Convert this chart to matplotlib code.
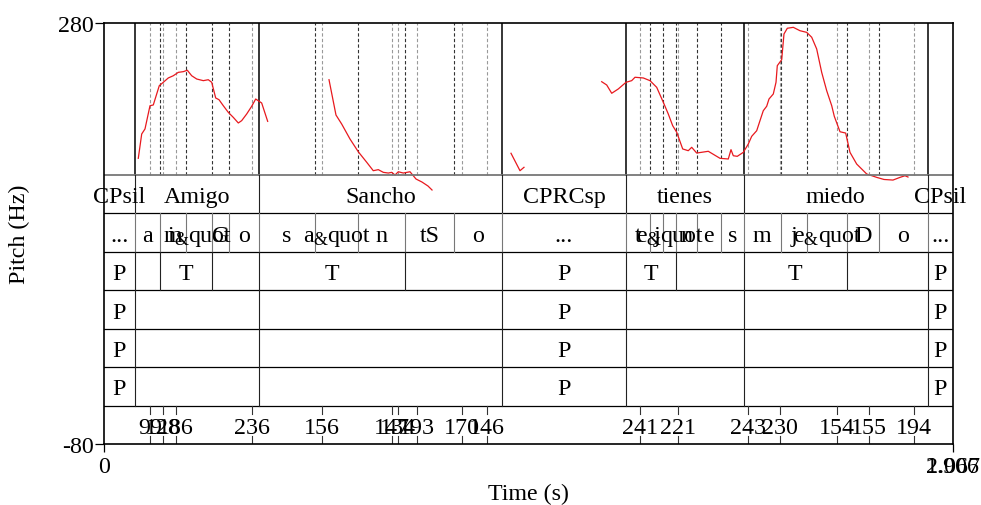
import numpy as np
import matplotlib.pyplot as plt
from matplotlib.font_manager import FontProperties
from matplotlib.transforms import offset_copy

plt.rcParams['font.family'] = ['Liberation Serif', 'DejaVu Serif']

t_max = 2.067
f_min, f_max = 150, 280
y_min = -80

# pitch contour (s, Hz), one array pair per voiced stretch
seg1_t = [0.0835, 0.0918, 0.0998, 0.1120, 0.1200, 0.1283, 0.1346, 0.1444, 0.1565, 0.1687,
          0.1809, 0.1931, 0.2028, 0.2135, 0.2257, 0.2418, 0.2539, 0.2622, 0.2719, 0.2800,
          0.2904, 0.3026, 0.3148, 0.3270, 0.3352, 0.3474, 0.3596, 0.3693, 0.3839, 0.3985]
seg1_f = [164.3, 185.1, 189.4, 209.3, 209.9, 219.3, 226.4, 229.3, 233.0, 234.9,
          237.8, 238.4, 239.6, 234.9, 232.1, 230.7, 231.5, 229.3, 215.9, 214.4,
          209.3, 203.6, 199.3, 194.5, 196.5, 202.2, 208.8, 215.0, 211.6, 195.9]

seg2_t = [0.5478, 0.5648, 0.5787, 0.5989, 0.6191, 0.6396, 0.6556, 0.6678, 0.6800, 0.6922,
          0.7004, 0.7085, 0.7165, 0.7287, 0.7450, 0.7596, 0.7742, 0.7888, 0.7986]
seg2_f = [231.5, 201.3, 193.6, 180.8, 169.9, 160.9, 153.7, 154.6, 152.3, 151.7,
          152.3, 150.0, 152.8, 151.7, 152.8, 146.6, 144.0, 140.6, 137.2]

seg3_t = [0.9909, 1.0128, 1.0225]
seg3_f = [168.6, 153.7, 156.6]

seg4_t = [1.2117, 1.2239, 1.2361, 1.2521, 1.2709, 1.2847, 1.2928, 1.3130, 1.3293, 1.3456,
          1.3617, 1.3738, 1.3845, 1.3943, 1.4089, 1.4225, 1.4308, 1.4430, 1.4712, 1.4997,
          1.5199, 1.5265, 1.5321, 1.5418, 1.5565, 1.5686, 1.5769, 1.5891, 1.5971, 1.6051,
          1.6134, 1.6190, 1.6295, 1.6361, 1.6392, 1.6499, 1.6555, 1.6636, 1.6782, 1.6945,
          1.7108, 1.7230, 1.7351, 1.7473, 1.7595, 1.7717, 1.7780, 1.7919, 1.8057, 1.8162,
          1.8325, 1.8569, 1.8812, 1.8990, 1.9209, 1.9380, 1.9501, 1.9574]
seg4_f = [229.8, 227.0, 219.9, 223.6, 229.3, 230.7, 233.6, 233.0, 230.7, 225.0,
          212.2, 202.2, 192.2, 186.6, 172.3, 170.8, 173.7, 168.8, 170.3, 164.3,
          163.7, 171.7, 166.5, 166.0, 169.4, 176.5, 183.1, 187.9, 196.5, 205.0,
          208.8, 215.0, 219.3, 229.3, 243.5, 248.6, 270.6, 275.5, 276.3, 273.4,
          272.0, 267.8, 257.8, 237.8, 222.1, 209.3, 200.2, 187.0, 185.9, 169.4,
          159.4, 150.9, 148.0, 146.2, 145.7, 148.0, 149.4, 148.3]

# textgrid
words = ["CPsil", "Amigo", "Sancho", "CPRCsp", "tienes", "miedo", "CPsil"]
word_bounds = [0, 0.0755, 0.3774, 0.9690, 1.2709, 1.5581, 2.0050, t_max]

phones = ["...", "a", "m", "i&quot", "G", "o", "s", "a&quot", "n", "tS", "o", "...",
          "t", "j", "e&quot", "n", "e", "s", "m", "j", "e&quot", "D", "o", "..."]
phone_bounds = [0, 0.0755, 0.1363, 0.1996, 0.2637, 0.3036, 0.3774, 0.5137, 0.6177, 0.7321,
                0.8521, 0.9690, 1.2709, 1.3293, 1.3617, 1.3919, 1.4430, 1.5021, 1.5581,
                1.6474, 1.7107, 1.8081, 1.8860, 2.0050, t_max]

accent = ["P", "", "T", "", "T", "", "P", "T", "", "T", "", "P"]
accent_bounds = [0, 0.0755, 0.1363, 0.2637, 0.3774, 0.7321, 0.9690, 1.2709, 1.3919,
                 1.5581, 1.8081, 2.0050, t_max]

pause = ["P", "", "", "P", "", "", "P"]

point_times = [0.1120, 0.1429, 0.1746, 0.3596, 0.5300, 0.7004, 0.7148, 0.7613, 0.8709,
               0.9325, 1.3042, 1.3982, 1.5679, 1.6450, 1.7845, 1.8617, 1.9713]
point_labels = ["99", "128", "186", "236", "156", "147", "134", "193", "170",
                "146", "241", "221", "243", "230", "154", "155", "194"]

interval_tiers = [(words, word_bounds), (phones, phone_bounds), (accent, accent_bounds),
                  (pause, word_bounds), (pause, word_bounds), (pause, word_bounds)]
tier_line_colors = ['#222222', '#777777', '#222222', '#222222', '#222222', '#222222']

fs = 17.3
fig = plt.figure(figsize=(9.81, 5.06), dpi=100)
ax = fig.add_axes([104/981, 61/506, 849/981, 421/506])
ax.set_xlim(0, t_max)
ax.set_ylim(y_min, f_max)
renderer = fig.canvas.get_renderer()

n_tiers = 7
h = (f_min - y_min) / n_tiers


def label(x, y, lab):
    if "&quot" not in lab:
        ax.text(x, y, lab, ha='center', va='center_baseline', fontsize=fs)
        return
    # "&" drawn smaller and lowered, as in the original picture
    head, tail = lab.split("&quot")
    pieces = [(head, fs, 0), ("&", fs * 0.75, -5), ("quot" + tail, fs, 0)]
    widths = []
    for s, size, dy in pieces:
        w, _, _ = renderer.get_text_width_height_descent(
            s, FontProperties(family='Liberation Serif', size=size), ismath=False)
        widths.append(w)
    x0 = -sum(widths) / 2
    for (s, size, dy), w in zip(pieces, widths):
        tr = offset_copy(ax.transData, fig=fig, x=x0, y=dy, units='dots')
        ax.text(x, y, s, transform=tr, ha='left', va='center_baseline', fontsize=size)
        x0 += w


# dotted boundaries in the pitch area
inner = set()
for labs, bnds in interval_tiers[1:]:
    inner.update(b for b in bnds[1:-1] if b not in word_bounds)
for b in sorted(inner):
    ax.plot([b, b], [f_min, f_max], color='#333333', lw=0.8, ls=(0, (3, 2)))
for p in point_times:
    ax.plot([p, p], [f_min, f_max], color='#999999', lw=0.8, ls=(0, (3, 2)))
for b in word_bounds[1:-1]:
    ax.plot([b, b], [f_min, f_max], color='black', lw=1.1)

for tt, ff in [(seg1_t, seg1_f), (seg2_t, seg2_f), (seg3_t, seg3_f), (seg4_t, seg4_f)]:
    ax.plot(tt, ff, color='#e8191e', lw=0.9)

# tiers
ax.axhline(f_min, color='#777777', lw=1.3)
for k, (labs, bnds) in enumerate(interval_tiers):
    top = f_min - k * h
    bot = top - h
    ax.axhline(bot, color='black', lw=0.9)
    for b in bnds[1:-1]:
        ax.plot([b, b], [bot, top], color=tier_line_colors[k], lw=0.8)
    for i, lab in enumerate(labs):
        if lab:
            label((bnds[i] + bnds[i + 1]) / 2, (top + bot) / 2, lab)

top = f_min - 6 * h
bot = y_min
tick = h * 0.22
for p, lab in zip(point_times, point_labels):
    ax.plot([p, p], [top, top - tick], color='#333333', lw=0.8)
    ax.plot([p, p], [bot, bot + tick], color='#333333', lw=0.8)
    label(p, (top + bot) / 2, lab)

for s in ax.spines.values():
    s.set_linewidth(1.2)
ax.set_yticks([y_min, f_max])
ax.set_yticklabels(["-80", "280"])
ax.set_xticks([0, t_max])
ax.set_xticklabels(["0", "2.067"])
ax.tick_params(axis='y', direction='out', length=6.5, width=0.9, pad=1, labelsize=fs)
ax.tick_params(axis='x', direction='out', length=6, width=0.9, pad=3, labelsize=fs)
# second end label printed over the first one
tr = offset_copy(ax.get_xaxis_transform(), fig=fig, x=0, y=-9, units='points')
ax.text(t_max, 0, "1.906", transform=tr, ha='center', va='top', fontsize=fs)

fig.text(19/981, 1 - 234.5/506, "Pitch (Hz)", rotation=90, ha='center', va='center', fontsize=fs)
fig.text(528.5/981, 1 - 494/506, "Time (s)", ha='center', va='center', fontsize=fs)

fig.savefig("out.png", dpi=100)
